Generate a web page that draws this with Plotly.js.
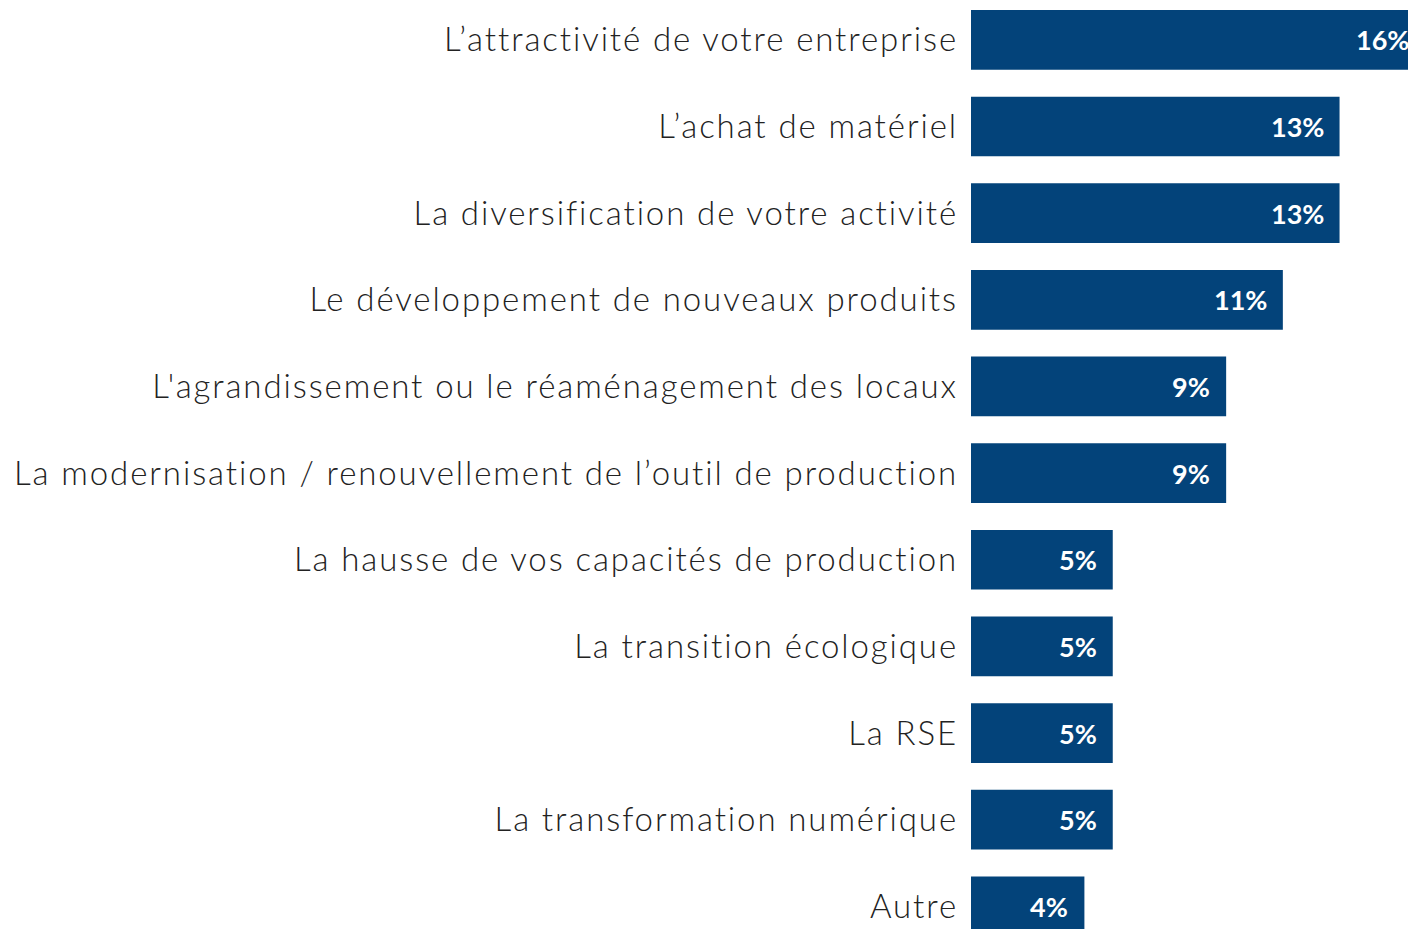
<!DOCTYPE html>
<html>
<head>
<meta charset="utf-8">
<script src="https://cdn.plot.ly/plotly-3.0.1.min.js"></script>
<style>
html,body{margin:0;padding:0;overflow:hidden;background:#fff;}
#chart{width:1430px;height:960px;}
#chart .ytick text{letter-spacing:1.9px;}
</style>
</head>
<body>
<div id="chart"></div>
<script>
const categories = [
  "L’attractivité de votre entreprise",
  "L’achat de matériel",
  "La diversification de votre activité",
  "Le développement de nouveaux produits",
  "L'agrandissement ou le réaménagement des locaux",
  "La modernisation / renouvellement de l’outil de production",
  "La hausse de vos capacités de production",
  "La transition écologique",
  "La RSE",
  "La transformation numérique",
  "Autre"
];
const values = [16, 13, 13, 11, 9, 9, 5, 5, 5, 5, 4];
const valueLabels = values.map(v => v + "%");

const barColor = "#03437A";

const trace = {
  type: "bar",
  orientation: "h",
  x: values,
  y: categories,
  marker: {color: barColor, line: {width: 0}},
  hoverinfo: "none",
  textposition: "none"
};

const annotations = values.map((v, i) => ({
  x: v,
  y: categories[i],
  xref: "x",
  yref: "y",
  text: "<b>" + valueLabels[i] + "</b>",
  showarrow: false,
  xanchor: "right",
  yanchor: "middle",
  xshift: -14,
  font: {family: "Lato, 'Open Sans', sans-serif", size: 27, color: "#ffffff"}
}));

const layout = {
  width: 1430,
  height: 960,
  margin: {l: 971, r: 0, t: 0, b: 0, pad: 0},
  paper_bgcolor: "#ffffff",
  plot_bgcolor: "#ffffff",
  showlegend: false,
  bargap: 0.311,
  xaxis: {
    range: [0, 459 / 28.35],
    showgrid: false,
    zeroline: false,
    showline: false,
    showticklabels: false,
    ticks: ""
  },
  yaxis: {
    type: "category",
    categoryorder: "array",
    categoryarray: categories,
    range: [(960 - 39.85) / 86.65, -39.85 / 86.65],
    showgrid: false,
    zeroline: false,
    showline: false,
    ticks: "",
    ticklabelstandoff: 12,
    tickfont: {family: "Lato, 'Open Sans', sans-serif", size: 33, weight: 300, color: "#222222"}
  },
  annotations: annotations
};

Plotly.newPlot("chart", [trace], layout, {displayModeBar: false, staticPlot: true});
</script>
</body>
</html>
